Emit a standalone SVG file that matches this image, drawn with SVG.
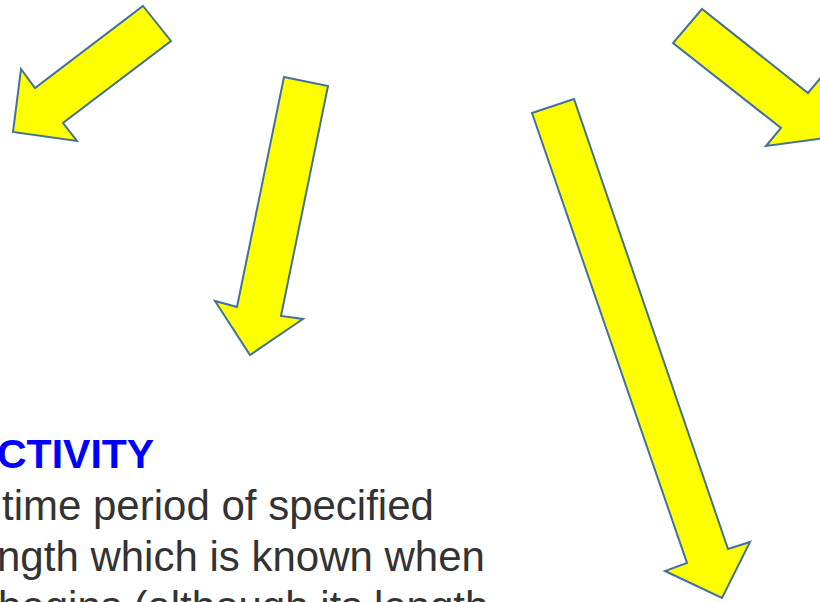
<svg xmlns="http://www.w3.org/2000/svg" width="820" height="602" viewBox="0 0 820 602">
<style>
.arrow{fill:#FFFF00;stroke:#41719C;stroke-width:2;stroke-linejoin:miter}
.title{font-family:"Liberation Sans",Arial,sans-serif;font-size:41px;font-weight:bold;fill:#0000FF}
.body{font-family:"Liberation Sans",Arial,sans-serif;font-size:42px;fill:#333333}
</style>
<rect width="820" height="602" fill="#FFFFFF"/>
<g id="connectors">
<g id="arrow1"><polygon class="arrow" points="143,6 171,41 63,123 77,141 13,132 21,69 35,88"/></g>
<g id="arrow2"><polygon class="arrow" points="284,77 328,86 281,316 303,319 250,355 215,301 237,307"/></g>
<g id="arrow3"><polygon class="arrow" points="532,113 574,99 728,549 750,542 722,598 665,571 687,563"/></g>
<g id="arrow4"><polygon class="arrow" points="702,9 673,43 781,128 766,146 832,137 823,75 808,93"/></g>
</g>
<g id="text">
<text class="title" x="-3" y="468">CTIVITY</text>
<text class="body" x="2" y="520">time period of specified</text>
<text class="body" x="-3" y="571">ngth which is known when</text>
<text class="body" x="-2" y="621">begins (although its length</text>
</g>
</svg>
